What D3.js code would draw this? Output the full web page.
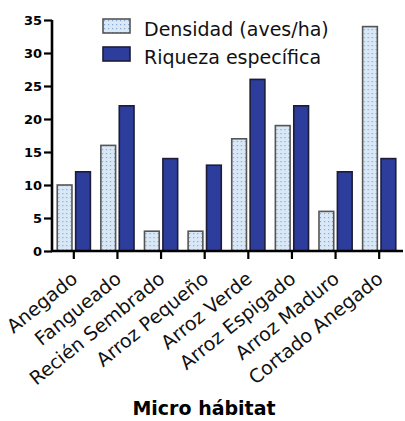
<!DOCTYPE html>
<html>
<head>
<meta charset="utf-8">
<script src="https://cdn.jsdelivr.net/npm/d3@7"></script>
<style>
  body { margin: 0; background: #fff; }
  svg { display: block; }
</style>
</head>
<body>
<div id="chart"></div>
<script>
const categories = ["Anegado", "Fangueado", "Recién Sembrado", "Arroz Pequeño",
    "Arroz Verde", "Arroz Espigado", "Arroz Maduro", "Cortado Anegado"];
const seriesNames = ["Densidad (aves/ha)", "Riqueza específica"];
const densidad = [10, 16, 3, 3, 17, 19, 6, 34];
const riqueza = [12, 22, 14, 13, 26, 22, 12, 14];
const yTicks = [0, 5, 10, 15, 20, 25, 30, 35];

const W = 405, H = 421;
const svg = d3.select('#chart').append('svg')
    .attr('width', W).attr('height', H);

// dotted fill for the density bars
const defs = svg.append('defs');
const pat = defs.append('pattern')
    .attr('id', 'dots')
    .attr('patternUnits', 'userSpaceOnUse')
    .attr('width', 4).attr('height', 4);
pat.append('rect').attr('width', 4).attr('height', 4).attr('fill', '#d9e8f6');
pat.append('rect').attr('x', 1).attr('y', 1).attr('width', 1.2).attr('height', 1.2)
    .attr('fill', '#8aa6c8');

const x0 = 52, x1 = 401, yBase = 251, yTop = 20;

const x = d3.scaleBand()
    .domain(categories)
    .range([x0, x1])
    .paddingInner(0.24)
    .paddingOuter(0.12);
const xs = d3.scaleBand()
    .domain(seriesNames)
    .range([0, x.bandwidth()])
    .paddingInner(0.2);
const y = d3.scaleLinear().domain([0, 35]).range([yBase, yTop]);

const rows = categories.map((c, i) => ({ cat: c, vals: [densidad[i], riqueza[i]] }));

const groups = svg.append('g').selectAll('g')
    .data(rows).join('g')
    .attr('transform', d => `translate(${x(d.cat)},0)`);

groups.selectAll('rect')
    .data(d => d.vals.map((v, k) => ({ name: seriesNames[k], v: v, k: k })))
    .join('rect')
    .attr('x', d => xs(d.name))
    .attr('y', d => y(d.v))
    .attr('width', xs.bandwidth())
    .attr('height', d => yBase - y(d.v))
    .attr('fill', d => d.k === 0 ? 'url(#dots)' : '#2c3d9c')
    .attr('stroke', d => d.k === 0 ? '#555' : '#1c1c3a')
    .attr('stroke-width', 1.6);

// y axis
const yAxis = svg.append('g')
    .attr('transform', `translate(${x0},0)`)
    .call(d3.axisLeft(y).tickValues(yTicks).tickSize(8).tickPadding(2));
yAxis.select('.domain').attr('stroke', '#000').attr('stroke-width', 2.6)
    .attr('d', `M0,${yTop}V${yBase}`);
yAxis.selectAll('.tick line').attr('stroke', '#000').attr('stroke-width', 2.2);
yAxis.selectAll('.tick text')
    .attr('font-family', 'DejaVu Sans, Verdana, sans-serif')
    .attr('font-weight', 'bold')
    .attr('font-size', 13)
    .attr('fill', '#000');

// x axis
const xAxis = svg.append('g')
    .attr('transform', `translate(0,${yBase})`)
    .call(d3.axisBottom(x).tickSize(8).tickFormat(''));
xAxis.select('.domain').attr('stroke', '#000').attr('stroke-width', 2.6)
    .attr('d', `M${x0 - 1},0H${x1 + 2}`);
xAxis.selectAll('.tick line').attr('stroke', '#000').attr('stroke-width', 2.2);

svg.append('g').selectAll('text')
    .data(categories).join('text')
    .attr('transform', d => `translate(${x(d) + x.bandwidth() / 2 + 5},281) rotate(-39)`)
    .attr('text-anchor', 'end')
    .attr('font-family', 'DejaVu Sans, Verdana, sans-serif')
    .attr('font-size', 19)
    .attr('fill', '#111')
    .text(d => d);

svg.append('text')
    .attr('x', 204).attr('y', 415)
    .attr('text-anchor', 'middle')
    .attr('font-family', 'DejaVu Sans, Verdana, sans-serif')
    .attr('font-weight', 'bold')
    .attr('font-size', 19)
    .attr('fill', '#000')
    .text('Micro hábitat');

// legend
const legend = svg.append('g').selectAll('g')
    .data(seriesNames).join('g')
    .attr('transform', (d, i) => `translate(103,${19 + i * 28})`);
legend.append('rect')
    .attr('width', 27).attr('height', 14)
    .attr('fill', (d, i) => i === 0 ? 'url(#dots)' : '#2c3d9c')
    .attr('stroke', (d, i) => i === 0 ? '#555' : '#1c1c3a')
    .attr('stroke-width', 1.6);
legend.append('text')
    .attr('x', 41).attr('y', 17)
    .attr('font-family', 'DejaVu Sans, Verdana, sans-serif')
    .attr('font-size', 19)
    .attr('fill', '#111')
    .text(d => d);
</script>
</body>
</html>
